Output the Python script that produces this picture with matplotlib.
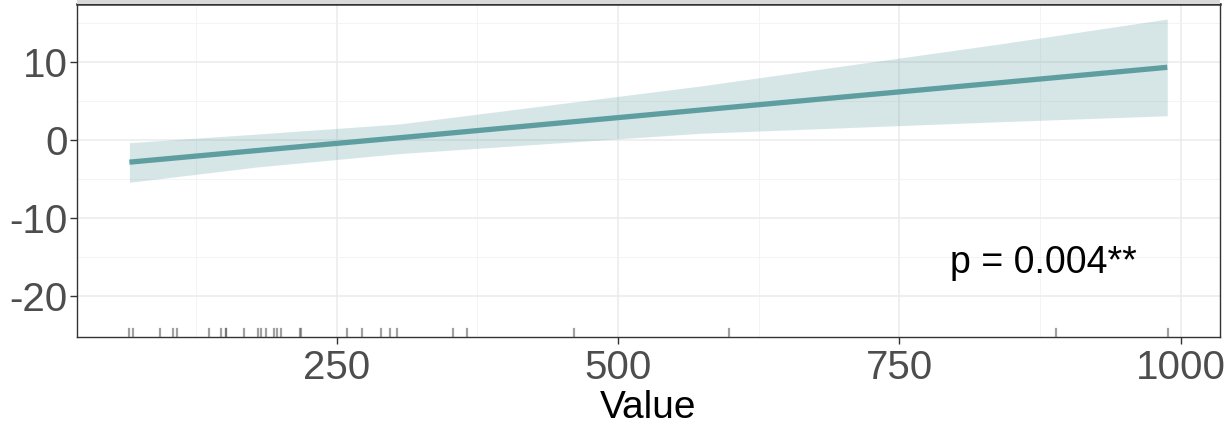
import matplotlib
matplotlib.use("Agg")
import matplotlib.pyplot as plt
from matplotlib.patches import Rectangle

plt.rcParams['font.family'] = ['Liberation Sans', 'DejaVu Sans']
plt.rcParams['axes.unicode_minus'] = False

# Fitted line and confidence band
fit_x = [66, 180, 306, 573, 839, 988]
fit_y = [-2.8, -1.3, 0.33, 3.88, 7.38, 9.36]
band_upper = [-0.3, 0.81, 2.1, 6.96, 12.35, 15.55]
band_lower = [-5.38, -3.41, -1.7, 0.9, 2.38, 3.15]

# Rug positions of observed values
rug_values = [65.9, 69.5, 93.2, 104.5, 108.0, 136.5, 147.1, 151.8, 151.8, 168.1,
              180.0, 183.2, 187.1, 194.5, 197.4, 201.0, 217.5, 218.5, 259.6, 272.7,
              289.3, 297.5, 304.0, 353.2, 366.2, 461.0, 598.4, 888.9, 988.4]

x_ticks = [250, 500, 750, 1000]
y_ticks = [-20, -10, 0, 10]
x_label = "Value"
p_text = "p = 0.004**"

W, H = 1226, 426
fig = plt.figure(figsize=(W / 100, H / 100), dpi=100)
ax_left, ax_right = 77.4 / W, 1219.6 / W
ax_top, ax_bottom = 1 - 3.5 / H, 1 - 336.5 / H
ax = fig.add_axes([ax_left, ax_bottom, ax_right - ax_left, ax_top - ax_bottom])

# strip remnant above panel
fig.patches.append(Rectangle((ax_left, ax_top), ax_right - ax_left, 1 - ax_top + 0.01,
                             transform=fig.transFigure, facecolor='#d9d9d9',
                             edgecolor='none', zorder=0))

teal = '#5F9EA0'
ax.fill_between(fit_x, band_lower, band_upper, color=teal, alpha=0.25, linewidth=0, zorder=2)
ax.plot(fit_x, fit_y, color=teal, linewidth=3.8, solid_capstyle='butt', zorder=3)

# rug
for v in rug_values:
    ax.axvline(v, ymin=0, ymax=0.024, color='#555555', alpha=0.55, linewidth=1.6, zorder=4)

ax.set_xlim(19.8, 1034.5)
ax.set_ylim(-25.15, 17.54)
ax.set_xticks(x_ticks)
ax.set_yticks(y_ticks)
ax.set_xticks([125, 375, 625, 875], minor=True)
ax.set_yticks([-15, -5, 5, 15], minor=True)

ax.grid(True, which='major', color='#ebebeb', linewidth=1.1, zorder=0)
ax.grid(True, which='minor', color='#f2f2f2', linewidth=0.6, zorder=0)
ax.set_axisbelow(True)

for s in ax.spines.values():
    s.set_color('#333333')
    s.set_linewidth(1.0)
ax.spines['top'].set_linewidth(1.8)

ax.tick_params(axis='both', which='major', labelsize=29, labelcolor='#4d4d4d',
               color='#333333', length=5, width=1.0)
ax.tick_params(axis='x', which='major', pad=4)
ax.tick_params(axis='y', which='major', pad=2)
ax.tick_params(axis='both', which='minor', length=0)

ax.set_xlabel(x_label, fontsize=28, color='black', labelpad=2)
ax.text(795, -15.7, p_text, fontsize=27, color='black', ha='left', va='center')

fig.savefig('out.png', dpi=100)
